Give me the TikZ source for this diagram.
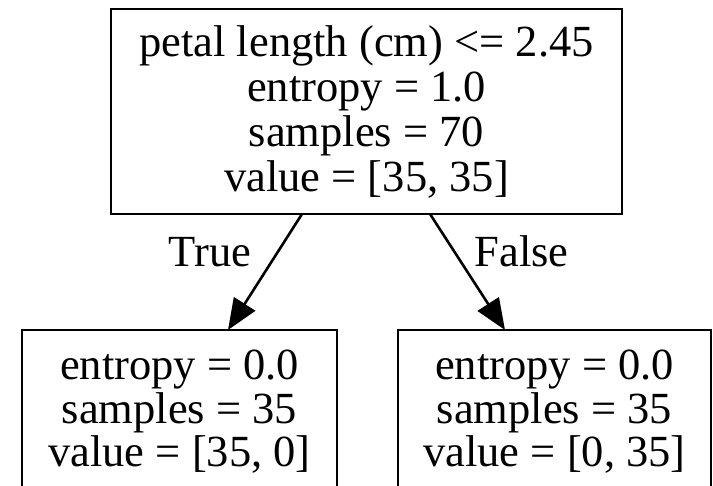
\documentclass[tikz,border=0pt]{standalone}
\usepackage{fontspec}
\setmainfont{Liberation Serif}
\usetikzlibrary{arrows.meta,calc}
\begin{document}
\begin{tikzpicture}[x=1pt,y=1pt,
  box/.style={draw, line width=2.8pt, rectangle, inner sep=0pt, outer sep=0pt, align=center},
  rootfont/.style={font=\fontsize{44.5}{45}\selectfont},
  leaffont/.style={font=\fontsize{44.5}{43.5}\selectfont},
  edge/.style={line width=2.6pt, -{Triangle[length=31pt,width=25pt]}},
  lbl/.style={font=\fontsize{44.5}{45}\selectfont, anchor=base, inner sep=0pt}]
\useasboundingbox (0,0) rectangle (713,486);
\clip (0,0) rectangle (713,486);
\node[box, rootfont, minimum width=511pt, minimum height=205pt] (root) at (366.5,374.5)
  {petal length (cm) <= 2.45\\ entropy = 1.0\\ samples = 70\\ value = [35, 35]};
\node[box, leaffont, minimum width=315pt, minimum height=164pt] (lc) at (179.5,74)
  {entropy = 0.0\\ samples = 35\\ value = [35, 0]};
\node[box, leaffont, minimum width=313pt, minimum height=164pt] (rc) at (554.5,74)
  {entropy = 0.0\\ samples = 35\\ value = [0, 35]};
\draw[edge] ($(root.south)+(-64.5,0)$) -- ($(lc.north)+(48.5,0)$);
\draw[edge] ($(root.south)+(63.5,0)$) -- ($(rc.north)+(-49.5,0)$);
\node[lbl] (t) at (210,219) {True};
\node[lbl] (f) at (521.5,219) {False};
\end{tikzpicture}
\end{document}
